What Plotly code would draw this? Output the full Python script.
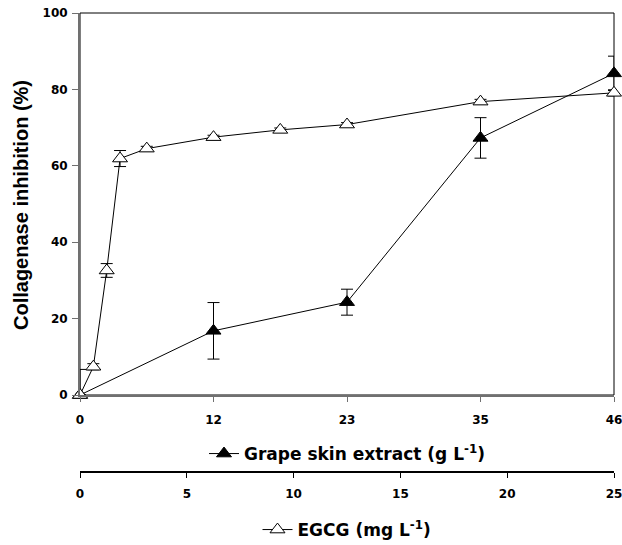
import plotly.graph_objects as go

# Grape skin extract (g/L) -- axis labelled 0, 12, 23, 35, 46
grape_x = [0, 11.5, 23, 34.5, 46]
grape_y = [0, 16.8, 24.3, 67.3, 84.2]
grape_err = [6.7, 7.4, 3.4, 5.3, 4.5]

# EGCG (mg/L)
egcg_x = [0, 0.625, 1.25, 1.875, 3.125, 6.25, 9.375, 12.5, 18.75, 25]
egcg_y = [0, 7.4, 32.6, 61.9, 64.5, 67.5, 69.4, 70.8, 76.8, 79.1]
egcg_err = [0, 0.8, 1.8, 2.1, 0.6, 0.5, 0.5, 0.5, 0.6, 0.8]

grape_ticks = [0, 11.5, 23, 34.5, 46]
grape_ticktext = ["0", "12", "23", "35", "46"]
egcg_ticks = [0, 5, 10, 15, 20, 25]
y_ticks = [0, 20, 40, 60, 80, 100]

TICKFONT = dict(family="DejaVu Sans", size=12, color="black", weight="bold")
TITLEFONT = dict(family="DejaVu Sans", size=17, color="black", weight="bold")

fig = go.Figure()

fig.add_trace(go.Scatter(
    x=grape_x, y=grape_y, mode="lines+markers",
    name="Grape skin extract (g L<sup>-1</sup>)",
    line=dict(color="black", width=1),
    marker=dict(symbol="triangle-up", size=13, color="black",
                line=dict(color="black", width=1)),
    error_y=dict(type="data", array=grape_err, color="black", thickness=1, width=6),
    cliponaxis=False, legend="legend",
))

fig.add_trace(go.Scatter(
    x=egcg_x, y=egcg_y, mode="lines+markers", xaxis="x2", yaxis="y",
    name="EGCG (mg L<sup>-1</sup>)",
    line=dict(color="black", width=1),
    marker=dict(symbol="triangle-up", size=13, color="white",
                line=dict(color="black", width=1)),
    error_y=dict(type="data", array=egcg_err, color="black", thickness=1, width=6),
    cliponaxis=False, legend="legend2",
))

plot_h = 545 - 13 - 73

fig.update_layout(
    width=622, height=545,
    margin=dict(l=80, r=8, t=13, b=73, autoexpand=False),
    paper_bgcolor="white", plot_bgcolor="white",
    font=dict(family="DejaVu Sans", color="black"),
    xaxis=dict(
        range=[0, 46], tickvals=grape_ticks, ticktext=grape_ticktext,
        showgrid=False, zeroline=False, showline=True, linecolor="#707070", linewidth=2,
        ticks="outside", ticklen=5, tickcolor="#707070", tickwidth=1,
        tickfont=TICKFONT, ticklabelstandoff=8, anchor="y", ticklabeloverflow="allow",
    ),
    xaxis2=dict(
        range=[0, 25], tickvals=egcg_ticks, overlaying="x", anchor="free", position=0,
        side="bottom",
        showgrid=False, zeroline=False, showline=True, linecolor="black", linewidth=1.5,
        ticks="outside", ticklen=5, tickcolor="black", tickwidth=1,
        tickfont=TICKFONT, ticklabelstandoff=6, ticklabeloverflow="allow",
    ),
    yaxis=dict(
        range=[0, 100], tickvals=y_ticks, domain=[(472 - 395) / plot_h, 1],
        showgrid=False, zeroline=False, showline=True, linecolor="#707070", linewidth=2,
        ticks="outside", ticklen=6, tickcolor="#707070", tickwidth=1,
        tickfont=TICKFONT, ticklabelstandoff=2, ticklabeloverflow="allow",
    ),
    showlegend=True,
    legend=dict(x=0.5, xanchor="center", y=(472 - 454) / plot_h, yanchor="middle",
                font=TITLEFONT, bgcolor="rgba(0,0,0,0)", itemwidth=30),
    legend2=dict(x=0.5, xanchor="center", y=(472 - 530) / plot_h, yanchor="middle",
                 font=TITLEFONT, bgcolor="rgba(0,0,0,0)", itemwidth=30),
    shapes=[dict(type="rect", xref="x domain", yref="y domain", x0=0, x1=1, y0=0, y1=1,
                 line=dict(color="black", width=1), layer="below")],
    annotations=[dict(
        text="Collagenase inhibition (%)", textangle=-90,
        xref="paper", yref="paper", x=-(80 - 21) / 534, y=(472 - 205) / plot_h,
        xanchor="center", yanchor="middle", showarrow=False,
        font=dict(family="Liberation Sans", size=20, color="black", weight="bold"),
    )],
)

fig.write_html("out.html", config={"displayModeBar": False},
               post_script="document.body.style.margin='0';document.body.style.padding='0';")
